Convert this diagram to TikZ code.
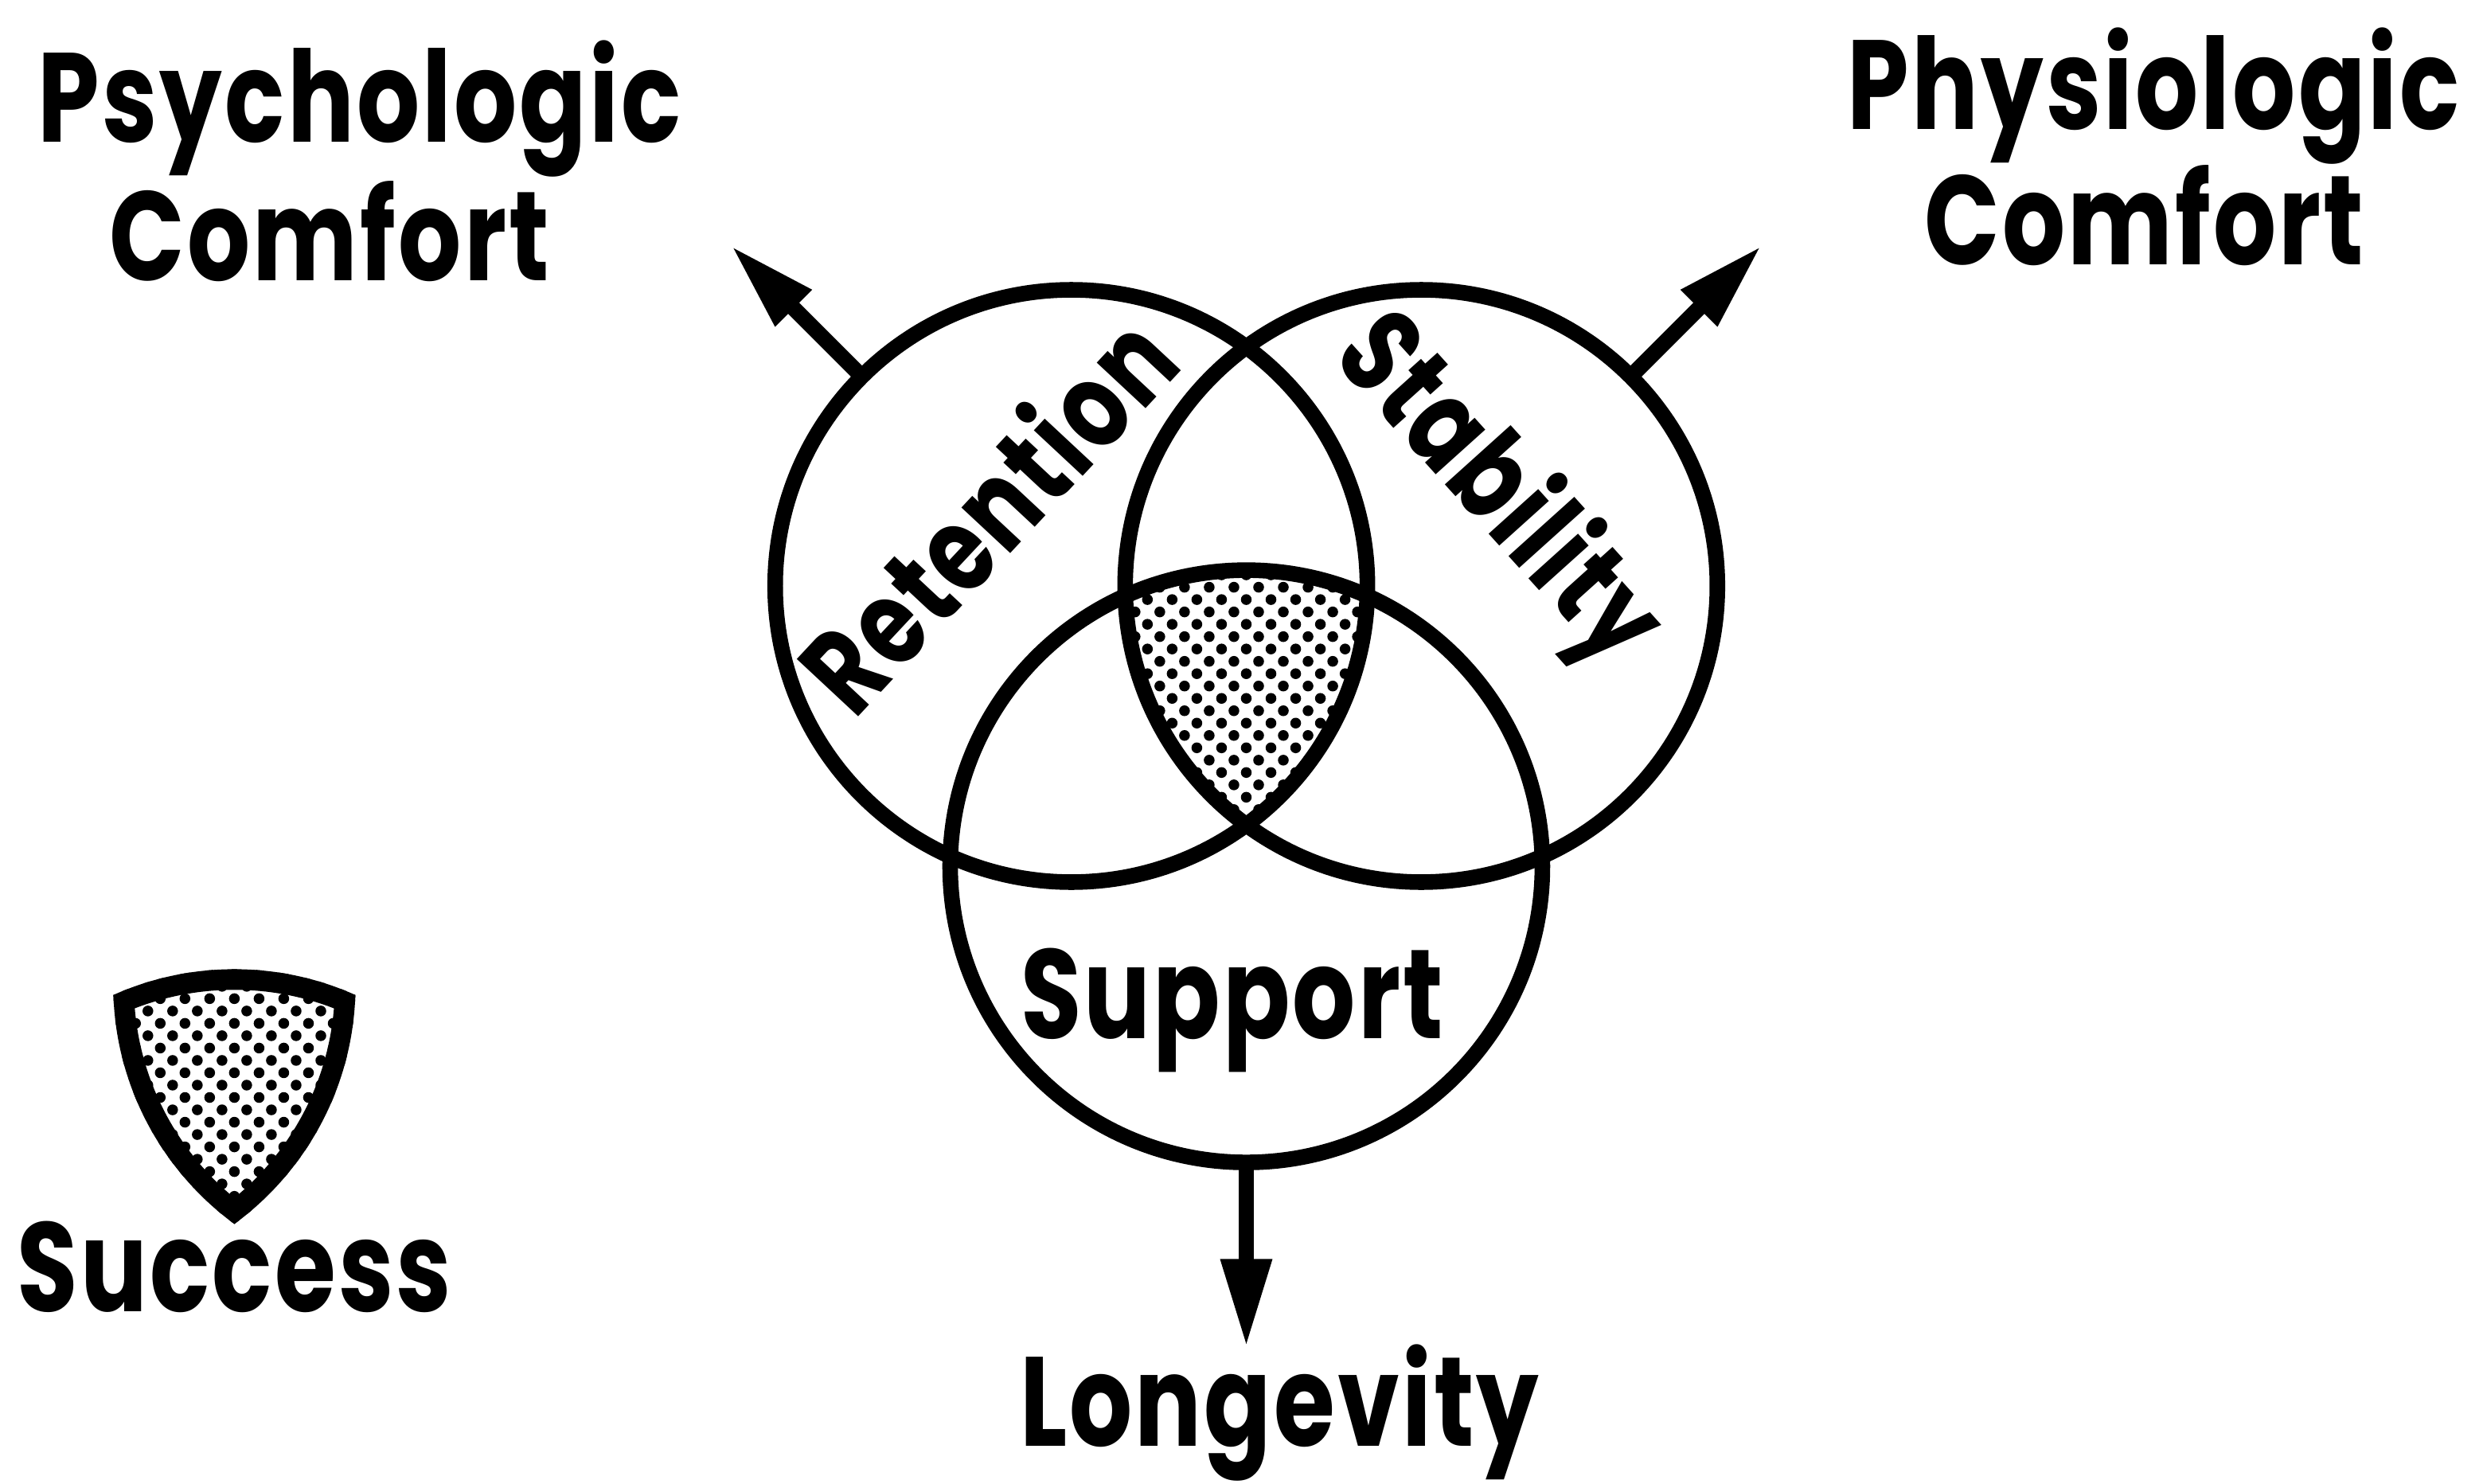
\documentclass[tikz,border=0pt]{standalone}
\usepackage{fontspec}
\setmainfont{Poppins}[FakeStretch=0.78,LetterSpace=2]
\usetikzlibrary{arrows.meta}

% staggered dot screen round a point
\newcommand{\dotgrid}[2]{%
  \foreach \i in {-6,...,6}
    \foreach \j in {-12,...,12}
      \fill ({#1+\i*0.156+mod(\j,2)*0.078},{#2+\j*0.078}) circle (0.034);}

\begin{document}
\begin{tikzpicture}[
  ring/.style={circle,draw,line width=2.8pt,minimum size=3.74cm,
    inner sep=0pt,outer sep=0pt},
  pointer/.style={line width=2.8pt,-{Triangle[length=5.6mm,width=3mm]}},
  lab/.style={font=\bfseries\fontsize{22.8}{27}\selectfont,inner sep=0pt,
    anchor=base},
  arclab/.style={lab,font=\bfseries\fontsize{21.5}{26}\selectfont,
    anchor=center}
]
  \useasboundingbox (0,0) rectangle (15.68,9.37);

  % shaded overlap of all three
  \begin{scope}
    \clip (6.765,5.67) circle (1.87);
    \clip (8.975,5.67) circle (1.87);
    \clip (7.87,3.90) circle (1.87);
    \dotgrid{7.87}{4.96}
  \end{scope}

  \node[ring] (ret) at (6.765,5.67) {};
  \node[ring] (sta) at (8.975,5.67) {};
  \node[ring] (sup) at (7.87,3.90) {};

  \coordinate (psyend) at ([shift={(135:3.04)}]ret.center);
  \coordinate (phyend) at ([shift={(45:3.04)}]sta.center);
  \coordinate (lonend) at ([yshift=-3.04cm]sup.center);
  \draw[pointer] (ret.135) -- (psyend);
  \draw[pointer] (sta.45) -- (phyend);
  \draw[pointer] (sup.south) -- (lonend);

  \node[arclab,rotate=47] (retl) at (6.22,6.14) {Retention};
  \node[arclab,rotate=-48] (stal) at (9.44,6.26) {Stability};
  \node[lab] (supl) at (7.78,2.81) {Support};

  \node[lab] (psy) at (2.27,8.475) {Psychologic};
  \node[lab] (psycom) at (2.08,7.60) {Comfort};
  \node[lab] (phy) at (13.60,8.554) {Physiologic};
  \node[lab] (phycom) at (13.54,7.70) {Comfort};
  \node[lab] (lon) at (8.08,0.24) {Longevity};

  % key
  \begin{scope}[shift={(-6.39,-2.52)}]
    \clip (6.765,5.67) circle (1.87);
    \clip (8.975,5.67) circle (1.87);
    \clip (7.87,3.90) circle (1.87);
    \dotgrid{7.87}{4.96}
    \draw[line width=7.4pt] (6.765,5.67) circle (1.87)
      (8.975,5.67) circle (1.87) (7.87,3.90) circle (1.87);
  \end{scope}
  \node[lab] (suc) at (1.48,1.09) {Success};
\end{tikzpicture}
\end{document}
